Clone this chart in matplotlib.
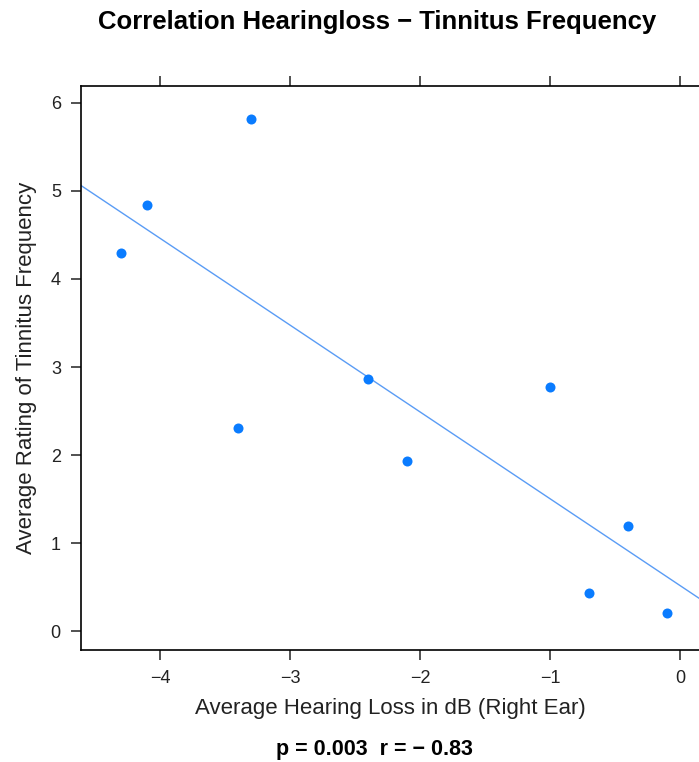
import numpy as np
import matplotlib
matplotlib.use('Agg')
import matplotlib.pyplot as plt

plt.rcParams['font.family'] = ['Liberation Sans', 'DejaVu Sans']

hearing_loss = [-4.3, -4.1, -3.4, -3.3, -2.4, -2.1, -1.0, -0.7, -0.4, -0.1]
tinnitus_freq = [4.3, 4.84, 2.31, 5.81, 2.87, 1.93, 2.77, 0.44, 1.2, 0.21]
x_ticks = [-4, -3, -2, -1, 0]
y_ticks = [0, 1, 2, 3, 4, 5, 6]

fig = plt.figure(figsize=(6.99, 7.62), dpi=100)
ax = fig.add_axes([81/699, 112/762, 1 - 81/699, 564/762])

ax.scatter(hearing_loss, tinnitus_freq, s=52, color='#0a7cff', zorder=3, linewidths=0)

slope, icpt = np.polyfit(hearing_loss, tinnitus_freq, 1)
xl = np.array([-4.62, 0.15])
ax.plot(xl, slope*xl + icpt, color='#5a9cf5', lw=1.0)

ax.set_xlim(-4.61, 0.146)
ax.set_ylim(-0.21, 6.19)
ax.set_xticks(x_ticks)
ax.set_xticklabels([str(t).replace('-', '\u2212') for t in x_ticks])
ax.set_yticks(y_ticks)
ax.spines['right'].set_visible(False)
for s in ['left', 'bottom', 'top']:
    ax.spines[s].set_linewidth(1.2)
ax.tick_params(axis='both', direction='out', length=7.5, width=1.1, labelsize=13, colors='#222222', pad=7)
ax.tick_params(axis='x', which='major', top=True, labeltop=False, right=False)

ax.set_xlabel('Average Hearing Loss in dB (Right Ear)', fontsize=16, color='#222222', labelpad=8)
ax.set_ylabel('Average Rating of Tinnitus Frequency', fontsize=16, color='#222222', labelpad=10)

fig.text(0.54, 0.971, 'Correlation Hearingloss \u2212 Tinnitus Frequency', ha='center', va='center',
         fontsize=18.5, fontweight='bold')
fig.text(0.536, 0.016, 'p = 0.003  r = \u2212 0.83', ha='center', va='center',
         fontsize=15.5, fontweight='bold')

fig.savefig('out.png', dpi=100)
